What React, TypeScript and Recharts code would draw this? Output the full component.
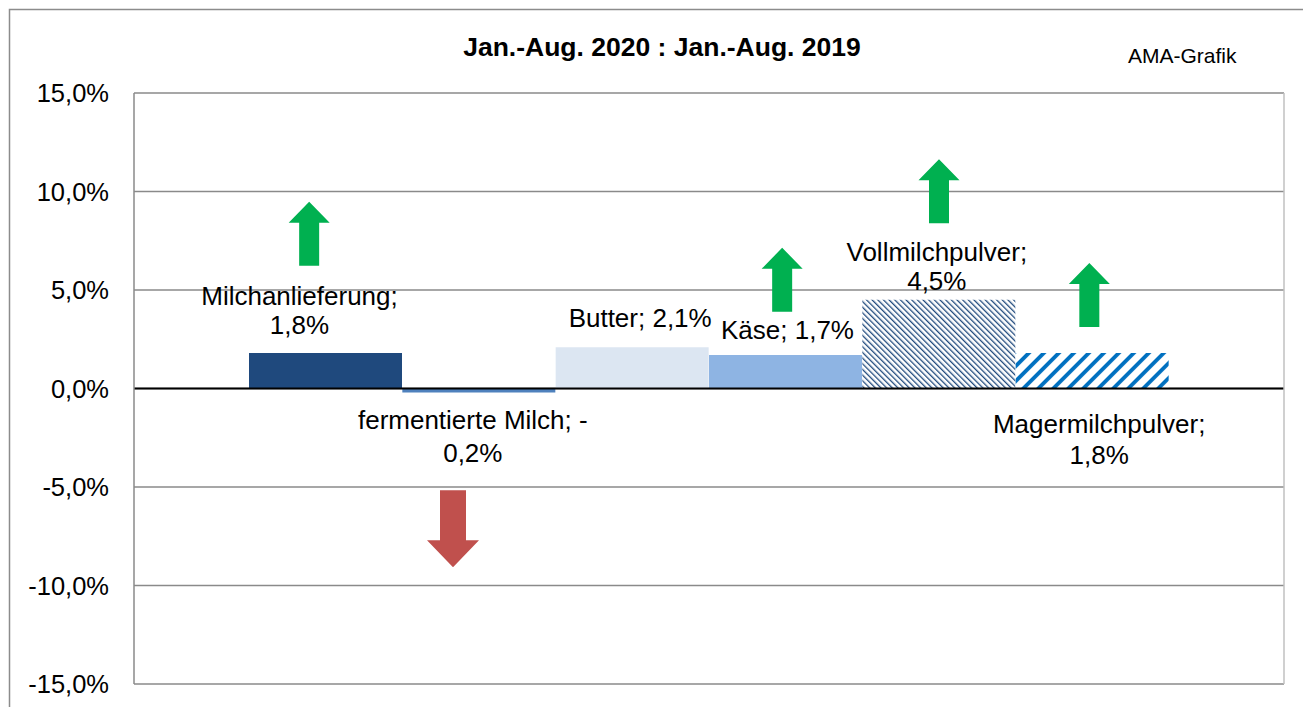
import React from 'react';
import {
  ComposedChart,
  Bar,
  Cell,
  Scatter,
  XAxis,
  YAxis,
  CartesianGrid,
  ReferenceLine,
} from 'recharts';

// ---------- data ----------
const categories = [
  'Milchanlieferung',
  'fermentierte Milch',
  'Butter',
  'Käse',
  'Vollmilchpulver',
  'Magermilchpulver',
];
const changes = [1.8, -0.2, 2.1, 1.7, 4.5, 1.8];
// arrow annotations (centre of arrow, in % units), direction
const arrowMid: (number | null)[] = [7.86, -7.12, null, 5.52, 10.01, 4.74];
const arrowDir: (string | null)[] = ['up', 'down', null, 'up', 'up', 'up'];
const yTicks = [-15, -10, -5, 0, 5, 10, 15];
const title = 'Jan.-Aug. 2020 : Jan.-Aug. 2019';
const sourceNote = 'AMA-Grafik';

// ---------- styles ----------
const FONT = '"Liberation Sans", Arial, Helvetica, sans-serif';
const barFills = ['#1F497D', '#4F81BD', '#DCE6F2', '#8EB4E3', 'url(#pVoll)', 'url(#pMager)'];
const labelLayout = [
  { dx: -26, anchor: 'top', wrap: true, dy: [-48, -19] },
  { dx: -6, anchor: 'bottom', wrap: true, dy: [37, 70] },
  { dx: 8, anchor: 'top', wrap: false, dy: [-20] },
  { dx: 2, anchor: 'top', wrap: false, dy: [-16.5] },
  { dx: -2, anchor: 'top', wrap: true, dy: [-39, -10] },
  { dx: 7, anchor: 'top', wrap: true, dy: [79.5, 110.5] },
];
const arrowDx = [-16.5, -26, 0, -3.5, 0, -3];

const fmt = (v: number) => v.toFixed(1).replace('.', ',') + '%';

const data = categories.map((name, i) => ({
  name,
  value: changes[i],
  arrow: arrowMid[i],
  dir: arrowDir[i],
  idx: i,
}));

const renderLabel = (props: any) => {
  const { x, y, width, height, index } = props;
  const i = index as number;
  const lay = labelLayout[i];
  const v = changes[i];
  const top = Math.min(y, y + height);
  const bottom = Math.max(y, y + height);
  const cx = x + width / 2 + lay.dx;
  const anchorY = lay.anchor === 'top' ? top : bottom;
  let lines: string[];
  if (lay.wrap) {
    if (v < 0) lines = [`${categories[i]}; -`, fmt(Math.abs(v))];
    else lines = [`${categories[i]};`, fmt(v)];
  } else {
    lines = [`${categories[i]}; ${fmt(v)}`];
  }
  return (
    <g>
      {lines.map((t, k) => (
        <text
          key={k}
          x={cx}
          y={anchorY + lay.dy[k]}
          textAnchor="middle"
          fontFamily={FONT}
          fontSize={26}
          fill="#000"
        >
          {t}
        </text>
      ))}
    </g>
  );
};

const ArrowShape = (props: any) => {
  const { cx, cy, payload } = props;
  if (!payload || payload.arrow == null || cx == null || cy == null || isNaN(cy)) return <g />;
  const i = payload.idx as number;
  const x0 = cx + arrowDx[i];
  if (payload.dir === 'up') {
    const w = 41, sw = 20, h = 64, hh = 21;
    const t = cy - h / 2, b = cy + h / 2;
    const d = `M${x0},${t} L${x0 + w / 2},${t + hh} L${x0 + sw / 2},${t + hh} L${x0 + sw / 2},${b} L${x0 - sw / 2},${b} L${x0 - sw / 2},${t + hh} L${x0 - w / 2},${t + hh} Z`;
    return <path d={d} fill="#00B050" />;
  }
  const w = 52, sw = 26, h = 77, hh = 27;
  const t = cy - h / 2, b = cy + h / 2;
  const d = `M${x0},${b} L${x0 + w / 2},${b - hh} L${x0 + sw / 2},${b - hh} L${x0 + sw / 2},${t} L${x0 - sw / 2},${t} L${x0 - sw / 2},${b - hh} L${x0 - w / 2},${b - hh} Z`;
  return <path d={d} fill="#C0504D" />;
};

export default function App() {
  return (
    <div
      style={{
        position: 'fixed',
        left: 0,
        top: 0,
        width: 1303,
        height: 707,
        overflow: 'hidden',
        background: '#fff',
      }}
    >
      <svg
        width={1303}
        height={707}
        style={{ position: 'absolute', left: 0, top: 0 }}
      >
        <rect x={9.5} y={9.5} width={1400} height={800} fill="none" stroke="#8c8c8c" strokeWidth={1.5} />
        <text x={662} y={56} textAnchor="middle" fontFamily={FONT} fontSize={26.5} fontWeight="bold" fill="#000">
          {title}
        </text>
        <text x={1128} y={63} fontFamily={FONT} fontSize={21} fill="#000">
          {sourceNote}
        </text>
      </svg>
      <div style={{ position: 'absolute', left: 0, top: 0 }}>
        <ComposedChart
          width={1303}
          height={707}
          data={data}
          margin={{ top: 93, right: 18, bottom: 23, left: 0 }}
          barCategoryGap={0}
          barGap={0}
        >
          <defs>
            <pattern id="pVoll" patternUnits="userSpaceOnUse" width={4} height={4} patternTransform="rotate(-45)">
              <rect x={0} y={0} width={4} height={4} fill="#fff" />
              <rect x={0} y={0} width={1.3} height={4} fill="#1F497D" />
            </pattern>
            <pattern id="pMager" patternUnits="userSpaceOnUse" width={10.6} height={10.6} patternTransform="rotate(45)">
              <rect x={0} y={0} width={10.6} height={10.6} fill="#fff" />
              <rect x={0} y={0} width={3.8} height={10.6} fill="#0070C0" />
            </pattern>
          </defs>
          <CartesianGrid horizontal vertical={false} stroke="#8a8a8a" strokeWidth={1.5} />
          <XAxis dataKey="name" hide padding={{ left: 115, right: 115 }} />
          <YAxis
            domain={[-15, 15]}
            ticks={yTicks}
            interval={0}
            width={134}
            axisLine={{ stroke: '#8a8a8a', strokeWidth: 1.5 }}
            tickLine={false}
            tickSize={0}
            tickMargin={25}
            tickFormatter={fmt}
            tick={{ fontFamily: FONT, fontSize: 25.5, fill: '#000' }}
          />
          <YAxis
            yAxisId="right"
            orientation="right"
            domain={[-15, 15]}
            ticks={yTicks}
            width={1}
            axisLine={{ stroke: '#c0c0c0', strokeWidth: 1.5 }}
            tickLine={false}
            tick={false}
          />
          <Bar dataKey="value" isAnimationActive={false} label={renderLabel}>
            {data.map((d, i) => (
              <Cell key={d.name} fill={barFills[i]} />
            ))}
          </Bar>
          <ReferenceLine y={0} stroke="#000" strokeWidth={2} />
          <Scatter dataKey="arrow" isAnimationActive={false} shape={<ArrowShape />} />
        </ComposedChart>
      </div>
    </div>
  );
}
